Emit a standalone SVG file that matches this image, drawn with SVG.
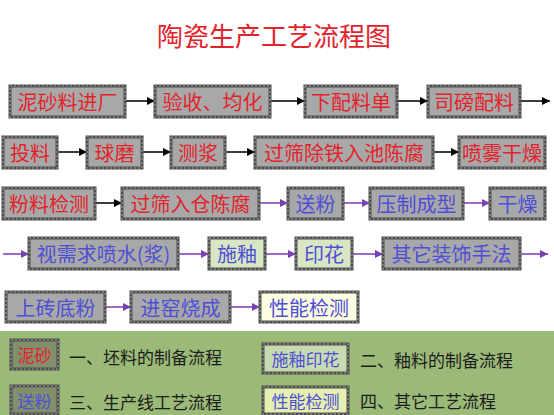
<svg xmlns="http://www.w3.org/2000/svg" width="554" height="415" viewBox="0 0 554 415">
<defs>
<style>
.t{font-family:"Noto Sans CJK SC","Liberation Sans",sans-serif;text-anchor:middle;dominant-baseline:central}
.box{stroke:#4f4f4f;stroke-width:3}
.dot{fill:none;stroke:#a0a0a0;stroke-width:1;stroke-dasharray:2 2}
.g{fill:#a8a8a8}
.lg{fill:#d8e6c4}
.ly{fill:#fdfde2}
.red{fill:#e3232b;font-size:20px}
.blue{fill:#4f4fd6;font-size:20px}
.ag{stroke:#3c3c3c;stroke-width:2;fill:none;marker-end:url(#hg)}
.ap{stroke:#9a6cc8;stroke-width:2;fill:none;marker-end:url(#hp)}
.leg{font-family:"Noto Sans CJK SC","Liberation Serif",serif;font-size:17px;fill:#1c1c1c;dominant-baseline:central}
</style>
<marker id="hg" markerUnits="userSpaceOnUse" markerWidth="8" markerHeight="8" refX="8" refY="4" orient="auto"><path d="M0,0 L8,4 L0,8 z" fill="#000"/></marker>
<marker id="hp" markerUnits="userSpaceOnUse" markerWidth="8" markerHeight="8" refX="8" refY="4" orient="auto"><path d="M0,0 L8,4 L0,8 z" fill="#7a3fb0"/></marker>
</defs>
<rect width="554" height="415" fill="#ffffff"/>
<text x="274" y="34" class="t" style="font-size:26px;fill:#e3232b">陶瓷生产工艺流程图</text>

<g id="connectors">
<line class="ag" x1="125" y1="101" x2="155" y2="101"/>
<line class="ag" x1="270" y1="101" x2="305" y2="101"/>
<line class="ag" x1="397" y1="101" x2="428" y2="101"/>
<line class="ag" x1="520" y1="101" x2="550" y2="101"/>
<line class="ag" x1="57" y1="152" x2="87" y2="152"/>
<line class="ag" x1="142" y1="152" x2="171" y2="152"/>
<line class="ag" x1="225" y1="152" x2="255" y2="152"/>
<line class="ag" x1="433" y1="152" x2="459" y2="152"/>
<line class="ag" x1="95" y1="203" x2="122" y2="203"/>
<line class="ap" x1="259" y1="203" x2="288" y2="203"/>
<line class="ap" x1="343" y1="203" x2="370" y2="203"/>
<line class="ap" x1="463" y1="203" x2="490" y2="203"/>
<line class="ap" x1="3" y1="254" x2="29" y2="254"/>
<line class="ap" x1="178" y1="254" x2="209" y2="254"/>
<line class="ap" x1="265" y1="254" x2="296" y2="254"/>
<line class="ap" x1="352" y1="254" x2="383" y2="254"/>
<line class="ap" x1="520" y1="254" x2="548" y2="254"/>
<line class="ap" x1="105" y1="307" x2="131" y2="307"/>
<line class="ap" x1="230" y1="307" x2="260" y2="307"/>
</g>

<g id="n1"><rect class="box g" x="10" y="86" width="115" height="31"/><rect class="dot" x="10" y="86" width="115" height="31"/><text class="t red" x="67.5" y="101.5">泥砂料进厂</text></g>
<g id="n2"><rect class="box g" x="155" y="86" width="115" height="31"/><rect class="dot" x="155" y="86" width="115" height="31"/><text class="t red" x="212.5" y="101.5">验收、均化</text></g>
<g id="n3"><rect class="box g" x="305" y="86" width="92" height="31"/><rect class="dot" x="305" y="86" width="92" height="31"/><text class="t red" x="351" y="101.5">下配料单</text></g>
<g id="n4"><rect class="box g" x="428" y="86" width="92" height="31"/><rect class="dot" x="428" y="86" width="92" height="31"/><text class="t red" x="474" y="101.5">司磅配料</text></g>

<g id="n5"><rect class="box g" x="3" y="137" width="54" height="31"/><rect class="dot" x="3" y="137" width="54" height="31"/><text class="t red" x="30" y="152.5">投料</text></g>
<g id="n6"><rect class="box g" x="87" y="137" width="55" height="31"/><rect class="dot" x="87" y="137" width="55" height="31"/><text class="t red" x="114.5" y="152.5">球磨</text></g>
<g id="n7"><rect class="box g" x="171" y="137" width="54" height="31"/><rect class="dot" x="171" y="137" width="54" height="31"/><text class="t red" x="198" y="152.5">测浆</text></g>
<g id="n8"><rect class="box g" x="255" y="137" width="178" height="31"/><rect class="dot" x="255" y="137" width="178" height="31"/><text class="t red" x="344" y="152.5">过筛除铁入池陈腐</text></g>
<g id="n9"><rect class="box g" x="459" y="137" width="86" height="31"/><rect class="dot" x="459" y="137" width="86" height="31"/><text class="t red" x="502" y="152.5">喷雾干燥</text></g>

<g id="n10"><rect class="box g" x="3" y="188" width="92" height="31"/><rect class="dot" x="3" y="188" width="92" height="31"/><text class="t red" x="49" y="203.5">粉料检测</text></g>
<g id="n11"><rect class="box g" x="122" y="188" width="137" height="31"/><rect class="dot" x="122" y="188" width="137" height="31"/><text class="t red" x="190.5" y="203.5">过筛入仓陈腐</text></g>
<g id="n12"><rect class="box g" x="288" y="188" width="55" height="31"/><rect class="dot" x="288" y="188" width="55" height="31"/><text class="t blue" x="315.5" y="203.5">送粉</text></g>
<g id="n13"><rect class="box g" x="370" y="188" width="93" height="31"/><rect class="dot" x="370" y="188" width="93" height="31"/><text class="t blue" x="416.5" y="203.5">压制成型</text></g>
<g id="n14"><rect class="box g" x="490" y="188" width="55" height="31"/><rect class="dot" x="490" y="188" width="55" height="31"/><text class="t blue" x="517.5" y="203.5">干燥</text></g>

<g id="n15"><rect class="box g" x="29" y="238" width="149" height="31"/><rect class="dot" x="29" y="238" width="149" height="31"/><text class="t blue" x="103.5" y="253.5">视需求喷水(浆)</text></g>
<g id="n16"><rect class="box lg" x="209" y="238" width="56" height="31"/><rect class="dot" x="209" y="238" width="56" height="31"/><text class="t blue" x="237" y="253.5">施釉</text></g>
<g id="n17"><rect class="box lg" x="296" y="238" width="56" height="31"/><rect class="dot" x="296" y="238" width="56" height="31"/><text class="t blue" x="324" y="253.5">印花</text></g>
<g id="n18"><rect class="box g" x="383" y="238" width="137" height="31"/><rect class="dot" x="383" y="238" width="137" height="31"/><text class="t blue" x="451.5" y="253.5">其它装饰手法</text></g>

<g id="n19"><rect class="box g" x="6" y="292" width="99" height="30"/><rect class="dot" x="6" y="292" width="99" height="30"/><text class="t blue" x="55.5" y="307">上砖底粉</text></g>
<g id="n20"><rect class="box g" x="131" y="292" width="99" height="30"/><rect class="dot" x="131" y="292" width="99" height="30"/><text class="t blue" x="180.5" y="307">进窑烧成</text></g>
<g id="n21"><rect class="box ly" x="260" y="292" width="98" height="30"/><rect class="dot" x="260" y="292" width="98" height="30"/><text class="t blue" x="309" y="307">性能检测</text></g>

<g id="legend">
<rect x="0" y="331" width="554" height="84" fill="#9bb977"/>
<g id="lg1"><rect class="box" x="11" y="340" width="47" height="29" fill="#828f6c"/><rect class="dot" x="11" y="340" width="47" height="29"/><text class="t" x="34.5" y="354.5" style="font-size:17px;fill:#e3232b">泥砂</text></g>
<text class="leg" x="69" y="356">一、坯料的制备流程</text>
<g id="lg2"><rect class="box" x="263" y="344" width="85" height="29" fill="#c6dbaf"/><rect class="dot" x="263" y="344" width="85" height="29"/><text class="t" x="305.5" y="358.5" style="font-size:17px;fill:#4f4fd6">施釉印花</text></g>
<text class="leg" x="360" y="359">二、釉料的制备流程</text>
<g id="lg3"><rect class="box" x="11" y="386" width="47" height="28" fill="#828f6c"/><rect class="dot" x="11" y="386" width="47" height="28"/><text class="t" x="34.5" y="400" style="font-size:17px;fill:#4f4fd6">送粉</text></g>
<text class="leg" x="69" y="401">三、生产线工艺流程</text>
<g id="lg4"><rect class="box" x="263" y="387" width="85" height="27" fill="#e6efb0"/><rect class="dot" x="263" y="387" width="85" height="27"/><text class="t" x="305.5" y="400.5" style="font-size:17px;fill:#4f4fd6">性能检测</text></g>
<text class="leg" x="360" y="400">四、其它工艺流程</text>
</g>
</svg>
